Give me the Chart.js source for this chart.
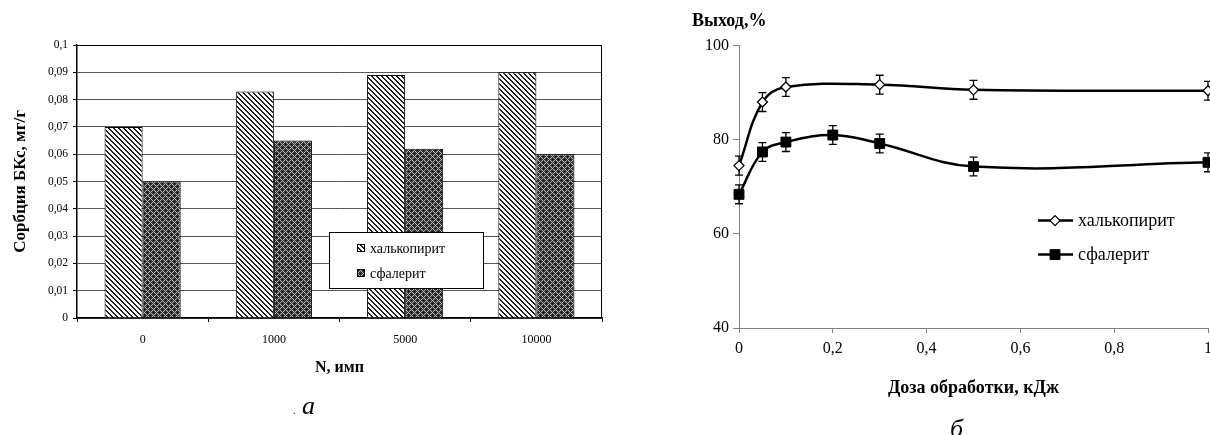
<!DOCTYPE html>
<html>
<head>
<meta charset="utf-8">
<script src="https://cdn.jsdelivr.net/npm/chart.js@4.4.1/dist/chart.umd.min.js"></script>
<style>
  body { margin: 0; background: #fff; width: 1210px; height: 435px; overflow: hidden; position: relative; font-family: "Liberation Serif", serif; }
  canvas { position: absolute; top: 0; }
  #barChart { left: 0; }
  #lineChart { left: 680px; }
  .cap { position: absolute; font-style: italic; font-size: 26px; line-height: 1; color: #000; }
  .cap small { font-size: 10px; font-style: normal; }
</style>
</head>
<body>
<canvas id="barChart" width="605" height="435"></canvas>
<canvas id="lineChart" width="538" height="435"></canvas>
<div class="cap" style="left:293px; top:393px;"><small>.</small>&nbsp;а</div>
<div class="cap" style="left:941px; top:416px;"><small>.</small>&nbsp;б</div>
<script>
// (а) sorption vs number of pulses
const pulseLabels = ['0', '1000', '5000', '10000'];
const sorbChalco = [0.070, 0.083, 0.089, 0.090];
const sorbSphal = [0.050, 0.065, 0.062, 0.060];
const sorbTicks = ['0', '0,01', '0,02', '0,03', '0,04', '0,05', '0,06', '0,07', '0,08', '0,09', '0,1'];

// (б) yield vs treatment dose
const doseChalco = [0, 0.05, 0.1, 0.3, 0.5, 1];
const yieldChalco = [74.5, 88.0, 91.2, 91.7, 90.6, 90.4];
const errChalco = [2, 2, 2, 2, 2, 2];
const doseSphal = [0, 0.05, 0.1, 0.2, 0.3, 0.5, 1];
const yieldSphal = [68.4, 77.4, 79.5, 81.0, 79.2, 74.3, 75.2];
const errSphal = [2, 2, 2, 2, 2, 2, 2];
const doseTicks = ['0', '0,2', '0,4', '0,6', '0,8', '1'];
const yieldTicks = ['40', '60', '80', '100'];

const SERIF = '"Liberation Serif", "Times New Roman", serif';
Chart.defaults.font.family = SERIF;
Chart.defaults.color = '#000';

// fill patterns like the old Excel hatches
function hatchPattern(ctx) {
  const c = document.createElement('canvas');
  c.width = 5; c.height = 5;
  const g = c.getContext('2d');
  g.fillStyle = '#fff';
  g.fillRect(0, 0, 5, 5);
  g.fillStyle = '#222';
  for (let y = 0; y < 5; y++) {
    g.fillRect(y % 5, y, 1, 1);
    g.fillRect((y + 1) % 5, y, 1, 1);
  }
  return ctx.createPattern(c, 'repeat');
}

function crossPattern(ctx) {
  const c = document.createElement('canvas');
  c.width = 6; c.height = 6;
  const g = c.getContext('2d');
  g.fillStyle = '#333';
  g.fillRect(0, 0, 6, 6);
  g.fillStyle = '#b8b8b8';
  for (let y = 0; y < 6; y++) {
    for (let x = 0; x < 6; x++) {
      if ((x + y) % 6 === 0 || (x - y + 6) % 6 === 0) g.fillRect(x, y, 1, 1);
    }
  }
  g.fillStyle = '#000';
  g.fillRect(3, 0, 1, 1);
  g.fillRect(0, 3, 1, 1);
  return ctx.createPattern(c, 'repeat');
}

// box around the plot area
const plotFrame = {
  id: 'plotFrame',
  beforeDatasetsDraw(chart) {
    const { ctx, chartArea: a } = chart;
    ctx.save();
    ctx.strokeStyle = '#000';
    ctx.lineWidth = 1;
    ctx.beginPath();
    ctx.moveTo(a.left, a.top + 0.5);
    ctx.lineTo(a.right - 0.5, a.top + 0.5);
    ctx.lineTo(a.right - 0.5, a.bottom);
    ctx.stroke();
    ctx.restore();
  }
};

// boxed legend sitting inside the plot
const barLegend = {
  id: 'barLegend',
  afterDraw(chart) {
    const { ctx, chartArea: a } = chart;
    const bx = a.left + 252, by = a.top + 187, bw = 154, bh = 56;
    ctx.save();
    ctx.fillStyle = '#fff';
    ctx.fillRect(bx, by, bw, bh);
    ctx.strokeStyle = '#000';
    ctx.lineWidth = 1;
    ctx.strokeRect(bx + 0.5, by + 0.5, bw, bh);
    ctx.font = '14px ' + SERIF;
    ctx.textBaseline = 'middle';
    chart.data.datasets.forEach((ds, i) => {
      const y = by + 16 + i * 25;
      ctx.fillStyle = ds.backgroundColor;
      ctx.fillRect(bx + 28, y - 4, 8, 8);
      ctx.strokeRect(bx + 28.5, y - 3.5, 7, 7);
      ctx.fillStyle = '#000';
      ctx.fillText(ds.label, bx + 41, y + 1);
    });
    ctx.restore();
  }
};

const barCtx = document.getElementById('barChart').getContext('2d');

new Chart(barCtx, {
  type: 'bar',
  data: {
    labels: pulseLabels,
    datasets: [
      { label: 'халькопирит', data: sorbChalco, backgroundColor: hatchPattern(barCtx), borderColor: '#000', borderWidth: 1 },
      { label: 'сфалерит', data: sorbSphal, backgroundColor: crossPattern(barCtx), borderColor: '#000', borderWidth: 1 }
    ]
  },
  options: {
    responsive: false,
    animation: false,
    datasets: { bar: { barPercentage: 1, categoryPercentage: 0.58 } },
    layout: { padding: { top: 45, right: 3, left: 0, bottom: 0 } },
    plugins: { legend: { display: false }, tooltip: { enabled: false } },
    scales: {
      x: {
        grid: { drawOnChartArea: false, tickLength: 4, color: '#000', offset: true },
        border: { color: '#000', width: 1.5 },
        ticks: { padding: 11, font: { size: 12 } },
        title: { display: true, text: 'N, имп', font: { size: 16, weight: 'bold' }, padding: { top: 0, bottom: 58 } },
        afterFit: s => { s.height = 117; }
      },
      y: {
        min: 0,
        max: 0.1,
        ticks: { stepSize: 0.01, padding: 5, font: { size: 11.5 }, callback: (v, i) => sorbTicks[i] },
        grid: { color: c => (c.index === sorbTicks.length - 1 ? '#000' : '#555'), tickLength: 4, tickColor: '#000' },
        border: { color: '#000', width: 1.5 },
        title: { display: true, text: 'Сорбция БКс, мг/г', font: { size: 17, weight: 'bold' }, padding: { top: 10, bottom: 0 } },
        afterFit: s => { s.width = 77; }
      }
    }
  },
  plugins: [plotFrame, barLegend]
});

// vertical error bars, drawn under the curves and markers
const errorBars = {
  id: 'errorBars',
  beforeDatasetsDraw(chart) {
    const { ctx, scales: { x, y } } = chart;
    ctx.save();
    ctx.strokeStyle = '#000';
    ctx.lineWidth = 1.3;
    chart.data.datasets.forEach(ds => {
      ds.data.forEach((pt, i) => {
        const px = x.getPixelForValue(pt.x);
        const hi = y.getPixelForValue(pt.y + ds.errors[i]);
        const lo = y.getPixelForValue(pt.y - ds.errors[i]);
        ctx.beginPath();
        ctx.moveTo(px, hi); ctx.lineTo(px, lo);
        ctx.moveTo(px - 4, hi); ctx.lineTo(px + 4, hi);
        ctx.moveTo(px - 4, lo); ctx.lineTo(px + 4, lo);
        ctx.stroke();
      });
    });
    ctx.restore();
  }
};

// legend with a line sample and marker
const lineLegend = {
  id: 'lineLegend',
  afterDraw(chart) {
    const { ctx, chartArea: a } = chart;
    const x0 = a.left + 299;
    ctx.save();
    ctx.font = '18px ' + SERIF;
    ctx.textBaseline = 'middle';
    chart.data.datasets.forEach((ds, i) => {
      const y = a.top + 175 + i * 34;
      ctx.strokeStyle = '#000';
      ctx.lineWidth = ds.borderWidth;
      ctx.beginPath();
      ctx.moveTo(x0, y); ctx.lineTo(x0 + 35, y);
      ctx.stroke();
      ctx.fillStyle = ds.pointBackgroundColor;
      ctx.lineWidth = ds.pointBorderWidth;
      Chart.helpers.drawPoint(ctx, { pointStyle: ds.pointStyle, radius: ds.pointRadius, borderWidth: ds.pointBorderWidth, rotation: 0 }, x0 + 17, y);
      ctx.fillStyle = '#000';
      ctx.fillText(ds.label, x0 + 40, y + 1);
    });
    ctx.restore();
  }
};

const axisGrey = '#808080';

new Chart(document.getElementById('lineChart'), {
  type: 'line',
  data: {
    datasets: [
      {
        label: 'халькопирит',
        data: doseChalco.map((d, i) => ({ x: d, y: yieldChalco[i] })),
        errors: errChalco,
        borderColor: '#000', borderWidth: 2.5, tension: 0.4, clip: false,
        pointStyle: 'rectRot', pointRadius: 5,
        pointBackgroundColor: '#fff', pointBorderColor: '#000', pointBorderWidth: 1.3
      },
      {
        label: 'сфалерит',
        data: doseSphal.map((d, i) => ({ x: d, y: yieldSphal[i] })),
        errors: errSphal,
        borderColor: '#000', borderWidth: 2.5, tension: 0.4, clip: false,
        pointStyle: 'rect', pointRadius: 7,
        pointBackgroundColor: '#000', pointBorderColor: '#000', pointBorderWidth: 1
      }
    ]
  },
  options: {
    responsive: false,
    animation: false,
    layout: { padding: { left: 12, top: 0, right: 0, bottom: 0 } },
    plugins: {
      legend: { display: false },
      tooltip: { enabled: false },
      title: {
        display: true, text: 'Выход,%', align: 'start', color: '#000',
        font: { size: 18, weight: 'bold' }, padding: { top: 11, bottom: 13 }
      }
    },
    scales: {
      x: {
        type: 'linear', min: 0, max: 1,
        ticks: { stepSize: 0.2, padding: 6, font: { size: 16 }, callback: (v, i) => doseTicks[i] },
        grid: { drawOnChartArea: false, tickLength: 5, color: axisGrey },
        border: { color: axisGrey },
        title: { display: true, text: 'Доза обработки, кДж', font: { size: 18, weight: 'bold' }, padding: { top: 4, bottom: 36 } },
        afterFit: s => { s.height = 107; }
      },
      y: {
        min: 40, max: 100,
        ticks: { stepSize: 20, padding: 4, font: { size: 16 }, callback: (v, i) => yieldTicks[i] },
        grid: { drawOnChartArea: false, tickLength: 6, color: axisGrey },
        border: { color: axisGrey },
        afterFit: s => { s.width = 47; }
      }
    }
  },
  plugins: [errorBars, lineLegend]
});
</script>
</body>
</html>
